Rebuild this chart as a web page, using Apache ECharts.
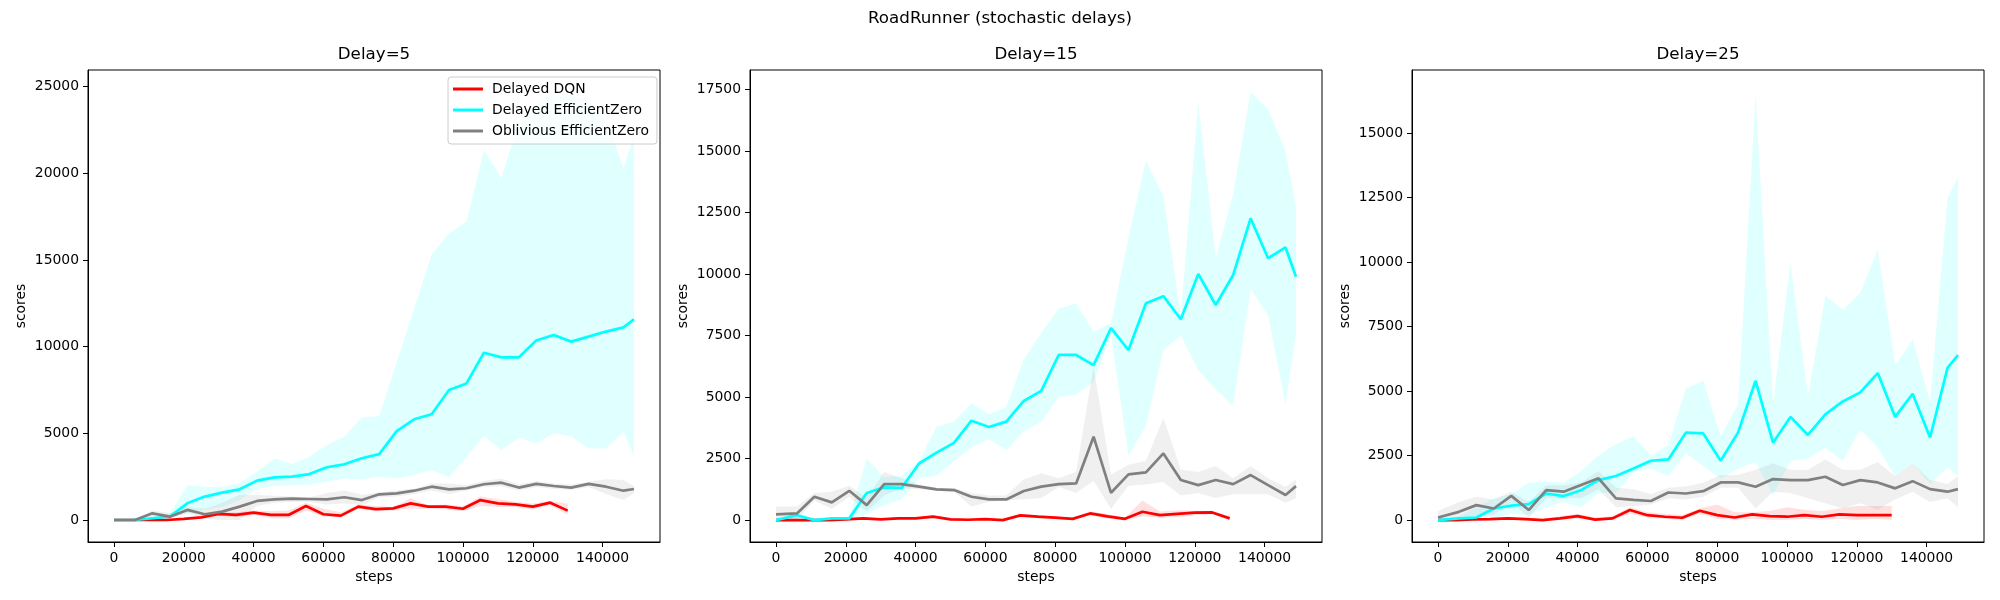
<!DOCTYPE html>
<html>
<head>
<meta charset="utf-8">
<title>RoadRunner (stochastic delays)</title>
<script src="https://cdn.jsdelivr.net/npm/echarts@6/dist/echarts.min.js"></script>
<style>
  html, body { margin: 0; padding: 0; background: #fff; }
  #chart { width: 2000px; height: 600px; }
</style>
</head>
<body>
<div id="chart"></div>
<script>
// ---- data ----
const STEPS_EZ = [0, 6000, 11000, 16000, 21000, 26000, 31000, 36000, 41000, 46000, 51000, 56000, 61000, 66000, 71000, 76000,
  81000, 86000, 91000, 96000, 101000, 106000, 111000, 116000, 121000, 126000, 131000, 136000, 141000, 146000, 149000];
const STEPS_DQN = [0, 5000, 10000, 15000, 20000, 25000, 30000, 35000, 40000, 45000, 50000, 55000, 60000, 65000,
  70000, 75000, 80000, 85000, 90000, 95000, 100000, 105000, 110000, 115000, 120000, 125000, 130000];

const PANEL_TITLES = ["Delay=5", "Delay=15", "Delay=25"];
const X_TICKS = [0, 20000, 40000, 60000, 80000, 100000, 120000, 140000];
const Y_TICKS_D5 = [0, 5000, 10000, 15000, 20000, 25000];
const Y_TICKS_D15 = [0, 2500, 5000, 7500, 10000, 12500, 15000, 17500];
const Y_TICKS_D25 = [0, 2500, 5000, 7500, 10000, 12500, 15000];

// Delay=5
const DQN_D5 = [0, 0, 0, 0, 60, 150, 350, 290, 420, 290, 290, 810, 330, 250, 770, 630, 670, 960, 770, 770, 650, 1150, 960, 900, 770, 1000, 540];
const DQN_D5_HI = [0, 0, 0, 0, 100, 220, 420, 450, 550, 500, 550, 1000, 650, 450, 900, 800, 750, 1250, 850, 900, 800, 1350, 1200, 1050, 950, 1100, 950];
const DQN_D5_LO = [0, 0, 0, 0, 20, 80, 250, 150, 300, 100, 100, 550, 200, 150, 650, 500, 550, 650, 650, 600, 500, 800, 750, 750, 600, 850, 300];
const EZ_D5 = [0, 0, 100, 190, 960, 1350, 1580, 1770, 2270, 2460, 2500, 2650, 3040, 3210, 3560, 3800, 5130, 5810, 6100, 7500, 7880, 9650, 9380, 9380, 10350, 10670, 10290, 10580, 10870, 11110, 11580];
const EZ_D5_HI = [0, 0, 250, 350, 2020, 1900, 1920, 2115, 2790, 3560, 3230, 3650, 4330, 4810, 5920, 6000, 9100, 12200, 15300, 16540, 17210, 21350, 19710, 23000, 24000, 24700, 24500, 24200, 23100, 20300, 22200];
const EZ_D5_LO = [0, 0, 0, 100, 385, 580, 770, 1150, 1800, 1950, 2000, 2050, 2200, 2380, 2350, 2500, 2400, 2600, 2880, 2460, 3650, 4850, 4040, 4750, 4420, 5000, 4810, 4130, 4130, 5100, 3690];
const OBL_D5 = [0, 0, 385, 190, 580, 330, 480, 770, 1100, 1190, 1230, 1210, 1190, 1310, 1150, 1480, 1540, 1690, 1920, 1770, 1830, 2060, 2150, 1870, 2080, 1960, 1870, 2080, 1920, 1690, 1790];
const OBL_D5_HI = [0, 0, 550, 400, 750, 650, 1000, 1450, 1450, 1400, 1350, 1300, 1550, 1700, 1450, 1600, 1700, 1800, 2100, 2100, 2000, 2250, 2400, 2050, 2250, 2100, 2050, 2200, 2350, 2300, 1950];
const OBL_D5_LO = [0, 0, 200, 100, 400, 50, 0, 0, 800, 1000, 1050, 1050, 900, 950, 850, 1300, 1350, 1500, 1700, 1500, 1700, 1900, 1950, 1700, 1900, 1800, 1750, 1900, 1500, 1150, 1550];

// Delay=15
const DQN_D15 = [0, 0, 0, 0, 30, 70, 30, 70, 70, 140, 30, 15, 40, 0, 190, 140, 100, 50, 270, 150, 50, 340, 200, 250, 300, 310, 70];
const DQN_D15_HI = [0, 0, 0, 0, 60, 120, 80, 120, 120, 200, 80, 60, 80, 40, 250, 200, 150, 100, 350, 250, 100, 800, 350, 400, 380, 380, 120];
const DQN_D15_LO = [0, 0, 0, 0, 0, 20, 0, 20, 20, 80, 0, 0, 0, 0, 120, 80, 50, 0, 200, 50, 0, 150, 100, 120, 200, 250, 30];
const EZ_D15 = [0, 200, 0, 70, 70, 1100, 1330, 1310, 2300, 2740, 3140, 4040, 3780, 4000, 4840, 5250, 6710, 6710, 6300, 7800, 6910, 8810, 9100, 8160, 10000, 8740, 9960, 12260, 10640, 11080, 9890];
const EZ_D15_HI = [0, 300, 50, 100, 150, 2500, 1750, 1800, 2400, 3800, 4000, 4750, 4300, 4600, 6550, 7600, 8600, 8800, 7650, 8000, 11500, 14600, 13150, 8300, 17000, 10650, 13250, 17400, 16700, 15000, 12700];
const EZ_D15_LO = [0, 0, 0, 0, 0, 250, 600, 850, 1700, 1800, 2400, 2950, 3300, 2850, 3600, 4000, 5000, 5100, 5600, 7500, 2600, 3850, 6900, 7500, 6100, 5300, 4650, 9400, 8300, 4700, 7600];
const OBL_D15 = [230, 270, 950, 720, 1190, 610, 1460, 1460, 1360, 1250, 1220, 950, 840, 840, 1180, 1360, 1460, 1490, 3390, 1110, 1860, 1940, 2710, 1630, 1420, 1630, 1460, 1830, 1420, 1020, 1380];
const OBL_D15_HI = [550, 550, 1100, 1150, 1400, 900, 1950, 1700, 1450, 1300, 1300, 1100, 1000, 1000, 1650, 1900, 1700, 1950, 6250, 1850, 2250, 2400, 4150, 2050, 1950, 2200, 1700, 2200, 1700, 1350, 1650];
const OBL_D15_LO = [0, 0, 800, 450, 950, 350, 1000, 1300, 1250, 1200, 1150, 550, 750, 800, 850, 900, 1350, 1100, 1600, 450, 1400, 1450, 1550, 1000, 1100, 900, 1050, 1050, 1050, 700, 900];

// Delay=25
const DQN_D25 = [0, 0, 25, 40, 65, 40, 0, 65, 155, 20, 65, 390, 190, 130, 90, 360, 190, 100, 220, 150, 130, 190, 130, 220, 190, 190, 190];
const DQN_D25_HI = [0, 0, 50, 80, 120, 100, 50, 150, 250, 100, 150, 500, 300, 250, 200, 450, 600, 300, 300, 350, 500, 400, 350, 450, 550, 550, 550];
const DQN_D25_LO = [0, 0, 0, 0, 0, 0, 0, 0, 50, 0, 0, 250, 100, 50, 0, 250, 50, 0, 50, 0, 0, 50, 0, 50, 0, 50, 0];
const EZ_D25 = [0, 65, 100, 450, 560, 620, 1030, 930, 1160, 1550, 1710, 2000, 2300, 2350, 3390, 3360, 2300, 3400, 5400, 3000, 4000, 3300, 4100, 4600, 4950, 5700, 4000, 4900, 3200, 5900, 6400];
const EZ_D25_HI = [50, 150, 500, 850, 1000, 1450, 1500, 1450, 1900, 2500, 2950, 3250, 2500, 2900, 5100, 5400, 3250, 4500, 16500, 4500, 10000, 4800, 8700, 8150, 8800, 10500, 6000, 7000, 4600, 12500, 13300];
const EZ_D25_LO = [0, 0, 0, 100, 250, 200, 500, 700, 500, 1050, 1050, 1850, 2000, 1700, 2600, 2100, 1600, 2000, 2250, 950, 2300, 2400, 2800, 2300, 3500, 2800, 1700, 2200, 1400, 2050, 1700];
const OBL_D25 = [100, 320, 580, 450, 940, 390, 1160, 1100, 1360, 1620, 840, 780, 740, 1070, 1030, 1120, 1460, 1460, 1290, 1590, 1550, 1550, 1680, 1360, 1550, 1460, 1230, 1510, 1200, 1100, 1200];
const OBL_D25_HI = [350, 700, 900, 800, 1100, 700, 1350, 1350, 1450, 1900, 1250, 1200, 1000, 1250, 1300, 1450, 1750, 1750, 1950, 2200, 1950, 1950, 2350, 1950, 1950, 2250, 1700, 2200, 1550, 1400, 1700];
const OBL_D25_LO = [0, 0, 100, 200, 700, 100, 850, 850, 850, 1200, 500, 550, 600, 850, 800, 900, 1250, 1250, 450, 1100, 1050, 850, 650, 450, 650, 400, 800, 1100, 700, 850, 500];

(function(){
  const FONT = "DejaVu Sans";
  const NAMES = ["Delayed DQN", "Delayed EfficientZero", "Oblivious EfficientZero"];
  const COLORS = ["#ff0000", "#00ffff", "#808080"];
  const FILLS = ["rgba(255,0,0,0.12)", "rgba(0,255,255,0.12)", "rgba(128,128,128,0.12)"];

  const panels = [
    { ylim: [-1270, 25960], yticks: Y_TICKS_D5,
      runs: [[DQN_D5, DQN_D5_LO, DQN_D5_HI], [EZ_D5, EZ_D5_LO, EZ_D5_HI], [OBL_D5, OBL_D5_LO, OBL_D5_HI]] },
    { ylim: [-890, 18290], yticks: Y_TICKS_D15,
      runs: [[DQN_D15, DQN_D15_LO, DQN_D15_HI], [EZ_D15, EZ_D15_LO, EZ_D15_HI], [OBL_D15, OBL_D15_LO, OBL_D15_HI]] },
    { ylim: [-850, 17450], yticks: Y_TICKS_D25,
      runs: [[DQN_D25, DQN_D25_LO, DQN_D25_HI], [EZ_D25, EZ_D25_LO, EZ_D25_HI], [OBL_D25, OBL_D25_LO, OBL_D25_HI]] }
  ];

  const LEFTS = [88, 750, 1412];
  const GW = 572, GTOP = 70, GH = 472;

  const txt = { fontFamily: FONT, fontSize: 13.9, color: "#000" };
  const plain = (v)=> String(v);

  // band polygon: upper edge forwards, lower edge backwards, all through api.coord
  function bandItem(fill){
    return function(params, api){
      if (params.dataIndexInside !== 0) return null;
      const n = params.dataInsideLength;
      const pts = [];
      for (let j = 0; j < n; j++) pts.push(api.coord([api.value(0, j), api.value(2, j)]));
      for (let j = n - 1; j >= 0; j--) pts.push(api.coord([api.value(0, j), api.value(1, j)]));
      return { type: "polygon", shape: { points: pts }, style: { fill, stroke: null } };
    };
  }

  const grids = [], xAxes = [], yAxes = [], series = [];
  const titles = [{
    text: "RoadRunner (stochastic delays)", left: 1000, top: 10, textAlign: "center", padding: 0,
    textStyle: { fontFamily: FONT, fontSize: 16.7, fontWeight: "normal", color: "#000" }
  }];

  panels.forEach((p, i)=>{
    grids.push({ left: LEFTS[i], top: GTOP, width: GW, height: GH, show: true,
      borderColor: "#000", borderWidth: 1, backgroundColor: "transparent" });
    titles.push({ text: PANEL_TITLES[i], left: LEFTS[i] + GW / 2, top: 46, textAlign: "center", padding: 0,
      textStyle: { fontFamily: FONT, fontSize: 16.7, fontWeight: "normal", color: "#000" } });

    xAxes.push({
      type: "value", gridIndex: i, min: -7450, max: 156450,
      name: "steps", nameLocation: "middle", nameGap: 28, nameTextStyle: txt,
      axisLine: { show: true, onZero: false, lineStyle: { color: "#000", width: 1 } },
      axisTick: { show: true, length: 5, lineStyle: { color: "#000", width: 1 }, customValues: X_TICKS },
      axisLabel: Object.assign({ margin: 9, formatter: plain, customValues: X_TICKS }, txt),
      splitLine: { show: false }
    });
    yAxes.push({
      type: "value", gridIndex: i, min: p.ylim[0], max: p.ylim[1],
      name: "scores", nameLocation: "middle", nameGap: 60, nameTextStyle: txt,
      axisLine: { show: true, onZero: false, lineStyle: { color: "#000", width: 1 } },
      axisTick: { show: true, length: 5, lineStyle: { color: "#000", width: 1 }, customValues: p.yticks },
      axisLabel: Object.assign({ margin: 9, formatter: plain, customValues: p.yticks }, txt),
      splitLine: { show: false }
    });

    p.runs.forEach((run, k)=>{
      const steps = k === 0 ? STEPS_DQN : STEPS_EZ;
      const [mean, lo, hi] = run;
      // mean curve
      series.push({
        type: "line", name: NAMES[k], xAxisIndex: i, yAxisIndex: i,
        symbol: "none", showSymbol: false,
        data: steps.map((x, j)=>[x, mean[j]]),
        lineStyle: { width: 2.7, color: COLORS[k] }, itemStyle: { color: COLORS[k] }
      });
      // shaded band
      series.push({
        type: "custom", name: NAMES[k] + " band", xAxisIndex: i, yAxisIndex: i, silent: true,
        data: steps.map((x, j)=>[x, lo[j], hi[j]]),
        encode: { x: 0, y: [1, 2] },
        renderItem: bandItem(FILLS[k])
      });
    });
  });

  const chart = echarts.init(document.getElementById("chart"), null, { renderer: "canvas" });
  chart.setOption({
    animation: false,
    backgroundColor: "#fff",
    title: titles,
    legend: {
      data: NAMES, left: 448, top: 77, orient: "vertical", selectedMode: false,
      icon: "rect", itemWidth: 30, itemHeight: 3, itemGap: 5,
      padding: [4, 8, 5, 5],
      backgroundColor: "rgba(255,255,255,0.8)", borderColor: "#cccccc", borderWidth: 1, borderRadius: 3,
      textStyle: Object.assign({ lineHeight: 16, padding: [0, 0, 0, 4] }, txt)
    },
    grid: grids,
    xAxis: xAxes,
    yAxis: yAxes,
    series
  });
})();
</script>
</body>
</html>
